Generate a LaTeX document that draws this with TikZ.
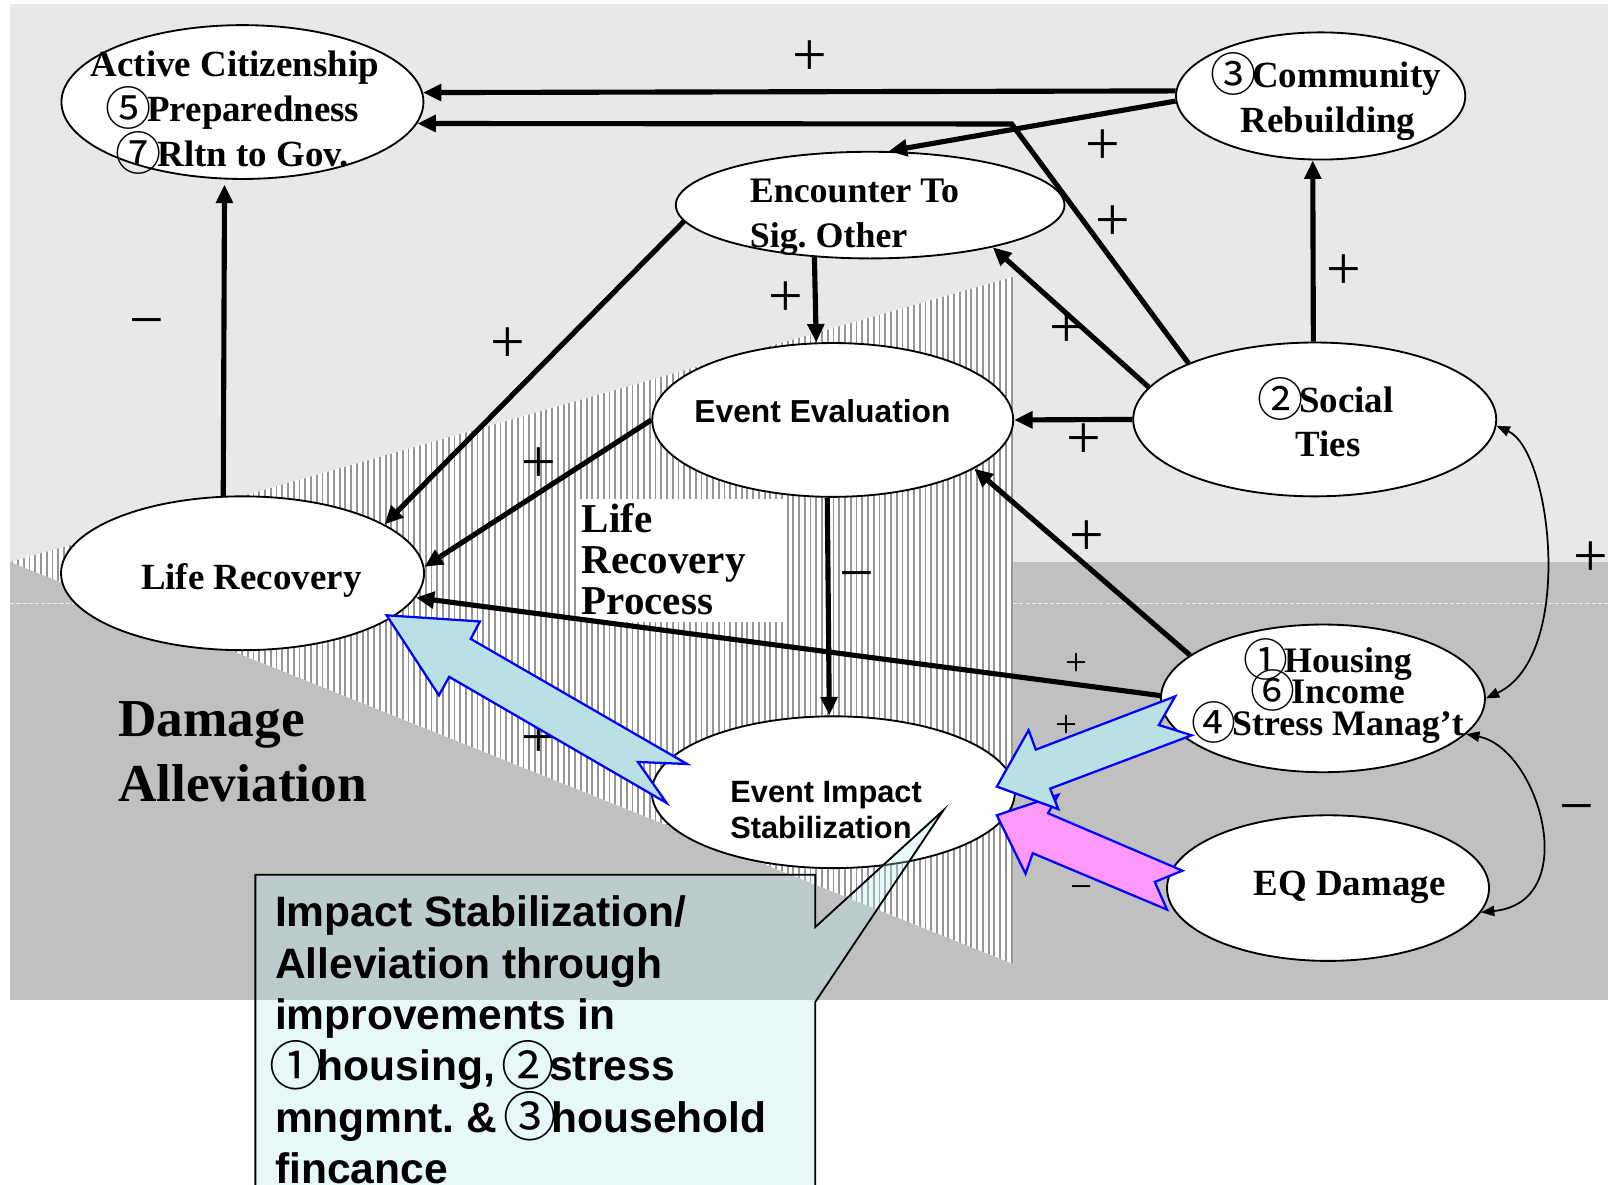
\documentclass[tikz,border=0pt]{standalone}
\usepackage{fontspec}
\setmainfont{Liberation Serif}
\newfontfamily\arialf{Liberation Sans}
\newfontfamily\cjkf[Scale=1.25]{Noto Sans CJK JP}
\usetikzlibrary{shapes.geometric,arrows.meta}
\newcommand{\circd}[1]{{\cjkf\mdseries\kern-0.1em\smash{\raisebox{-0.09em}{#1}}\kern-0.1em}}
\definecolor{lightbg}{RGB}{232,232,232}
\definecolor{darkbg}{RGB}{192,192,192}
\definecolor{hatchg}{RGB}{150,150,150}
\definecolor{ablue}{RGB}{185,224,228}
\definecolor{apink}{RGB}{255,153,255}
\definecolor{aedge}{RGB}{0,0,255}
\definecolor{calfill}{RGB}{179,235,235}
\begin{document}
\lineskiplimit=-100pt\relax
\frenchspacing
\begin{tikzpicture}[x=1pt,y=-1pt,
 ell/.style={ellipse, draw=black, line width=1.8pt, fill=white, inner sep=0pt},
 conn/.style={line width=5pt, -{Triangle[length=18pt,width=16pt]}},
 dblcurve/.style={line width=1.7pt, {Triangle[length=13pt,width=10pt]}-{Triangle[length=13pt,width=10pt]}},
 signlbl/.style={font=\fontsize{60}{60}\selectfont, inner sep=0pt},
 smallsign/.style={font=\fontsize{38}{38}\selectfont, inner sep=0pt},
 sertext/.style={font=\fontsize{36}{44}\selectfont\bfseries, align=center, inner sep=0pt},
 blockarrow/.style={draw=aedge, line width=2.2pt, line join=miter},
]
\useasboundingbox[fill=white] (0,0) rectangle (1568,1155);
% backgrounds
\fill[lightbg] (10,4) rectangle (1568,548);
\fill[darkbg] (10,548) rectangle (1568,975);
\begin{scope}
\clip (10,548) -- (988,270) -- (988,940) -- cycle;
\fill[white] (0,250) rectangle (1000,960);
\foreach \i in {0,...,175} \draw[hatchg, line width=1.8pt] ({12+\i*5.6},260) -- ({12+\i*5.6},950);
\end{scope}
\draw[white, line width=0.8pt, dash pattern=on 4pt off 2pt, opacity=0.7] (10,588) -- (110,588);
\draw[white, line width=0.8pt, dash pattern=on 4pt off 2pt, opacity=0.7] (988,588) -- (1568,588);
% Life Recovery Process box
\node[fill=white, minimum width=202pt, minimum height=120pt, anchor=north west, inner sep=0pt] (LRPbox) at (564,486) {};
\node[font=\fontsize{40}{40}\selectfont\bfseries, align=left, anchor=west, inner sep=0pt] (LRPt) at (567,545) {Life\\Recovery\\Process};
\node[font=\fontsize{52}{63}\selectfont\bfseries, align=left, anchor=west, inner sep=0pt] (DAt) at (115,733) {Damage\\Alleviation};
% ellipses
\node[ell, minimum width=353pt, minimum height=150pt] (AC) at (236.4,99.5) {};
\node[ell, minimum width=282pt, minimum height=124pt] (CR) at (1287.8,93.6) {};
\node[ell, minimum width=379pt, minimum height=104pt] (EN) at (848.5,200) {};
\node[ell, minimum width=352pt, minimum height=150pt] (EE) at (812,409.5) {};
\node[ell, minimum width=354pt, minimum height=150pt] (ST) at (1282,409) {};
\node[ell, minimum width=354pt, minimum height=150pt] (LR) at (236.5,559) {};
\node[ell, minimum width=316pt, minimum height=144pt] (HO) at (1290,681) {};
\node[ell, minimum width=354pt, minimum height=148pt] (EI) at (812.6,772.5) {};
\node[ell, minimum width=314pt, minimum height=142pt] (EQ) at (1295,866) {};
% connectors
\coordinate (k1) at (986.5,120.9);
\draw[conn] (CR.178.3) -- (AC.3.3);
\draw[conn, line join=miter] (ST.156.5) -- (k1) -- (AC.-7.2);
\draw[conn] (CR.-178.4) -- (EN.71.9);
\draw[conn] (ST.91.5) -- (CR.263.7);
\draw[conn] (ST.169.5) -- (EN.-19.5);
\draw[conn] (ST.180) -- (EE.0);
\draw[conn] (EN.223) -- (EE.102.8);
\draw[conn] (EN.-175.7) -- (LR.19.8);
\draw[conn] (EE.180) -- (LR.2);
\draw[conn] (EE.266.9) -- (EI.93.7);
\draw[conn, shorten >=5pt] (LR.104) -- (AC.-103.9);
\draw[conn] (HO.179) -- (LR.-8.2);
\draw[conn] (HO.162) -- (EE.-19.4);
\draw[dblcurve] (ST.-2) .. controls +(54,25) and +(87,-41) .. (HO.0);
\draw[dblcurve] (HO.-14) .. controls +(71,14) and +(100,-10) .. (EQ.-9.4);
% signs
\node[signlbl] (s1) at (790,57) {+};
\node[signlbl] (s2) at (1075,143) {+};
\node[signlbl] (s3) at (1085,218) {+};
\node[signlbl] (s4) at (1310,265) {+};
\node[signlbl] (s5) at (1040,322) {+};
\node[signlbl] (s6) at (1057,430) {+};
\node[signlbl] (s7) at (1060,525) {+};
\node[signlbl] (s8) at (766,292) {+};
\node[signlbl] (s9) at (495,337) {+};
\node[signlbl] (s10) at (525,454) {+};
\node[signlbl] (s11) at (525,722) {+};
\node[signlbl] (s12) at (143,321) {−};
\node[signlbl] (s13) at (836,568) {−};
\node[signlbl] (s14) at (1551,545) {+};
\node[signlbl] (s15) at (1538,795) {−};
\node[smallsign] (s16) at (1050,648) {+};
\node[smallsign] (s17) at (1040,708) {+};
\node[smallsign] (s18) at (1055,870) {−};
% texts
\node[sertext] (ACt) at (229,106) {Active Citizenship\\\circd{⑤}Preparedness\\\circd{⑦}Rltn to Gov.};
\node[sertext] (CRt) at (1295,99) {\circd{③}Community\\Rebuilding};
\node[sertext, align=left, anchor=west, font=\fontsize{35}{44}\selectfont\bfseries] (ENt) at (731,212) {Encounter To\\Sig. Other};
\node[font=\arialf\bfseries\fontsize{31}{36}\selectfont, inner sep=0pt] (EEt) at (802,401) {Event Evaluation};
\node[sertext, font=\fontsize{36}{43}\selectfont\bfseries] (STt) at (1295,411) {\circd{②}Social\\Ties};
\node[sertext] (LRt) at (245,566) {Life Recovery};
\node[sertext, font=\fontsize{35}{31}\selectfont\bfseries] (HOt) at (1297,678) {\circd{①}Housing\\\circd{⑥}Income\\\circd{④}Stress Manag’t};
\node[font=\arialf\bfseries\fontsize{30}{35}\selectfont, align=left, anchor=west, inner sep=0pt] (EIt) at (712,790) {Event Impact\\Stabilization};
\node[sertext] (EQt) at (1316,865) {EQ Damage};
% block arrows
\filldraw[blockarrow, fill=ablue] (377,600) -- (468,606) -- (459,623) -- (670,745) -- (622,743) -- (650,783) -- (438,660) -- (428,678) -- cycle;
\filldraw[blockarrow, fill=apink] (972,795) -- (1032,775) -- (1022,793) -- (1153,849) -- (1126,860) -- (1138,887) -- (1007,832) -- (1000,852) -- cycle;
\filldraw[blockarrow, fill=ablue] (972,767) -- (1003,712) -- (1010,731) -- (1146,679) -- (1130,707) -- (1162,717) -- (1024,769) -- (1032,789) -- cycle;
% callout
\coordinate (ptip) at (920,790);
\filldraw[draw=black, line width=1.8pt, fill=calfill, fill opacity=0.3] (249,853) -- (795,853) -- (795,904) -- (ptip) -- (795,977) -- (795,1160) -- (249,1160) -- cycle;
\node[font=\arialf\bfseries\fontsize{41.5}{50}\selectfont, align=left, anchor=west, inner sep=0pt] (CALt) at (268,1014) {Impact Stabilization/\\Alleviation through\\improvements in\\\circd{①}housing, \circd{②}stress\\mngmnt. \& \circd{③}household\\fincance};
\end{tikzpicture}
\end{document}
